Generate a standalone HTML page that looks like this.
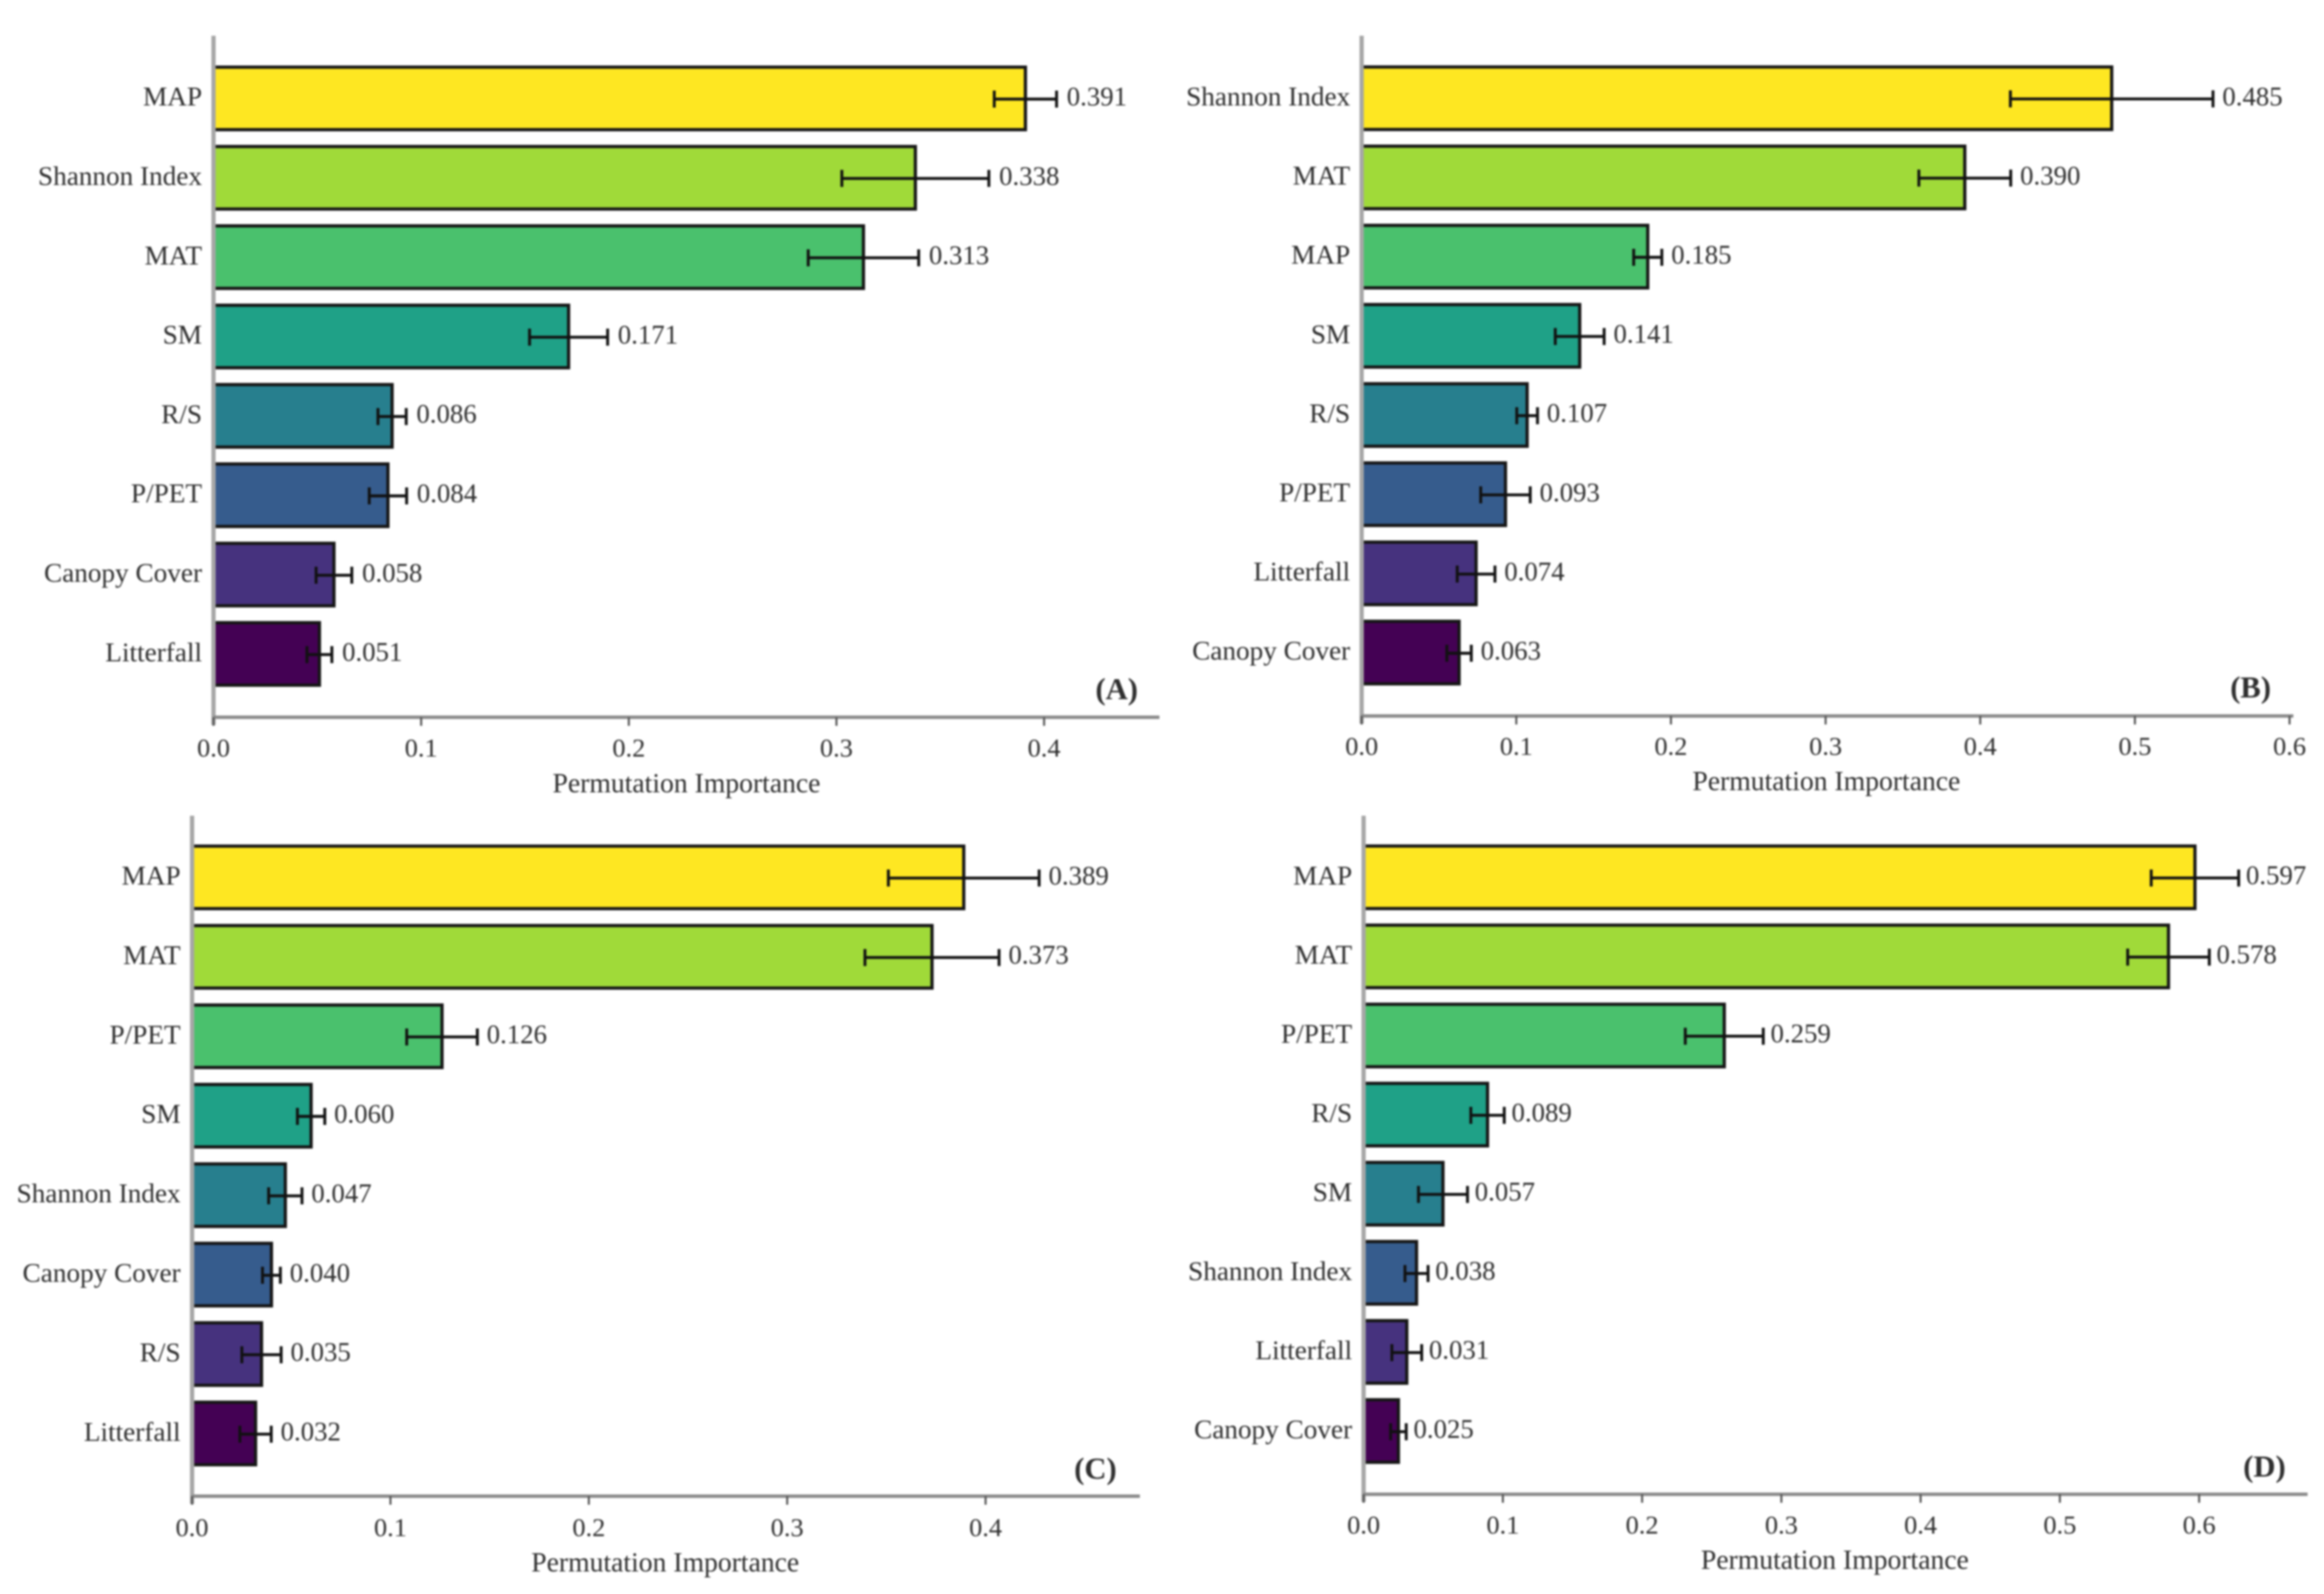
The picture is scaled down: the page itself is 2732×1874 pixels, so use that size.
<!DOCTYPE html>
<html lang="en">
<head>
<meta charset="utf-8">
<title>Permutation Importance Panels</title>
<style>
html,body{margin:0;padding:0;background:#fff;width:2732px;height:1874px;overflow:hidden}
svg{display:block;filter:blur(1px)}
text{font-family:"Liberation Serif",serif;fill:#2e2e2e}
</style>
</head>
<body>
<svg id="figure" xmlns="http://www.w3.org/2000/svg" width="2732" height="1874" viewBox="0 0 2732 1874"></svg>
<script>
const categoriesA = ["MAP","Shannon Index","MAT","SM","R/S","P/PET","Canopy Cover","Litterfall"];
const valuesA = [0.391,0.338,0.313,0.171,0.086,0.084,0.058,0.051];
const errorsA = [0.015,0.0354,0.0266,0.0188,0.0068,0.009,0.0086,0.006];
const ticksA = [0,0.1,0.2,0.3,0.4];

const categoriesB = ["Shannon Index","MAT","MAP","SM","R/S","P/PET","Litterfall","Canopy Cover"];
const valuesB = [0.485,0.390,0.185,0.141,0.107,0.093,0.074,0.063];
const errorsB = [0.0655,0.0297,0.0091,0.0158,0.0067,0.016,0.0122,0.0079];
const ticksB = [0,0.1,0.2,0.3,0.4,0.5,0.6];

const categoriesC = ["MAP","MAT","P/PET","SM","Shannon Index","Canopy Cover","R/S","Litterfall"];
const valuesC = [0.389,0.373,0.126,0.060,0.047,0.040,0.035,0.032];
const errorsC = [0.038,0.0338,0.0178,0.0069,0.0084,0.0045,0.0099,0.0079];
const ticksC = [0,0.1,0.2,0.3,0.4];

const categoriesD = ["MAP","MAT","P/PET","R/S","SM","Shannon Index","Litterfall","Canopy Cover"];
const valuesD = [0.597,0.578,0.259,0.089,0.057,0.038,0.031,0.025];
const errorsD = [0.0314,0.0293,0.028,0.012,0.0176,0.0083,0.0107,0.0056];
const ticksD = [0,0.1,0.2,0.3,0.4,0.5,0.6];

const barColors = ["#fee722","#a0da39","#4ac16d","#1fa187","#277f8e","#365c8d","#46327e","#440154"];

const svg = document.getElementById("figure");
const NS = "http://www.w3.org/2000/svg";

function make(tag, attrs, parent) {
  const el = document.createElementNS(NS, tag);
  for (const k in attrs) el.setAttribute(k, attrs[k]);
  parent.appendChild(el);
  return el;
}

function drawPanel(cfg) {
  const g = make("g", {}, svg);
  
  

  const xPos = v => cfg.x0 + v * cfg.pxPerUnit;
  const yPos = i => cfg.firstCenter + i * cfg.pitch;
  const barH = 73.5;

  cfg.values.forEach((v, i) => {
    const bar = make("rect", {
      x: cfg.x0, y: yPos(i) - barH / 2, width: xPos(v) - cfg.x0, height: barH,
      fill: barColors[i], stroke: "#161616", "stroke-width": 3.8
    }, g);
    
    
  });

  const ySpine = make("line", {
    x1: cfg.x0, x2: cfg.x0, y1: cfg.top, y2: cfg.axisY + 9,
    stroke: "#a6a6a6", "stroke-width": 5
  }, g);
  
  

  const xSpine = make("line", {
    x1: cfg.x0, x2: cfg.right, y1: cfg.axisY, y2: cfg.axisY,
    stroke: "#8a8a8a", "stroke-width": 4
  }, g);
  
  

  cfg.ticks.forEach(t => {
    const tick = make("line", {
      x1: xPos(t), x2: xPos(t), y1: cfg.axisY, y2: cfg.axisY + 10,
      stroke: "#555", "stroke-width": 2.4
    }, g);
    
    
    const lab = make("text", {
      x: xPos(t), y: cfg.tickY + 10.5, "text-anchor": "middle", "font-size": 31
    }, g);
    lab.textContent = t.toFixed(1);
    
    
  });

  cfg.values.forEach((v, i) => {
    const y = yPos(i);
    const ey = y + 0.8;
    const lo = xPos(v - cfg.errors[i]);
    const hi = xPos(v + cfg.errors[i]);
    const err = make("path", {
      d: "M" + lo + " " + ey + "H" + hi + "M" + lo + " " + (ey - 10) + "V" + (ey + 10) + "M" + hi + " " + (ey - 10) + "V" + (ey + 10),
      fill: "none", stroke: "#111", "stroke-width": 3.4
    }, g);
    
    

    const val = make("text", {
      x: hi + cfg.valueGap, y: y + 8.3, "font-size": 31.5
    }, g);
    val.textContent = v.toFixed(3);
    
    

    const cat = make("text", {
      x: cfg.x0 - 13.5, y: y + 8.5, "text-anchor": "end", "font-size": 32
    }, g);
    cat.textContent = cfg.categories[i];
    
    
  });

  const xTitle = make("text", {
    x: cfg.titleX, y: cfg.titleY + 10, "text-anchor": "middle", "font-size": 32.5
  }, g);
  xTitle.textContent = "Permutation Importance";
  
  

  const tag = make("text", {
    x: cfg.tagX, y: cfg.tagY + 12, "text-anchor": "middle", "font-size": 36, "font-weight": "bold"
  }, g);
  tag.textContent = "(" + cfg.letter + ")";
  
  
}

drawPanel({letter:"A",categories:categoriesA,values:valuesA,errors:errorsA,ticks:ticksA,
  x0:251,pxPerUnit:2441,right:1363,top:42,axisY:843.3,firstCenter:115.7,pitch:93.3,
  tickY:879,titleX:807,titleY:921.6,tagX:1312.7,tagY:810,valueGap:12});
drawPanel({letter:"B",categories:categoriesB,values:valuesB,errors:errorsB,ticks:ticksB,
  x0:1600.7,pxPerUnit:1818,right:2696,top:42,axisY:841.7,firstCenter:115.5,pitch:93.1,
  tickY:877,titleX:2147,titleY:919.2,tagX:2645.7,tagY:808,valueGap:11});
drawPanel({letter:"C",categories:categoriesC,values:valuesC,errors:errorsC,ticks:ticksC,
  x0:225.8,pxPerUnit:2332,right:1340,top:959,axisY:1759,firstCenter:1031.5,pitch:93.4,
  tickY:1795.6,titleX:782,titleY:1837.6,tagX:1287.7,tagY:1726.7,valueGap:11});
drawPanel({letter:"D",categories:categoriesD,values:valuesD,errors:errorsD,ticks:ticksD,
  x0:1603,pxPerUnit:1637,right:2712.7,top:959,axisY:1756.7,firstCenter:1031.4,pitch:93,
  tickY:1792.3,titleX:2157,titleY:1834.6,tagX:2662,tagY:1724,valueGap:8.5});
</script>
</body>
</html>
